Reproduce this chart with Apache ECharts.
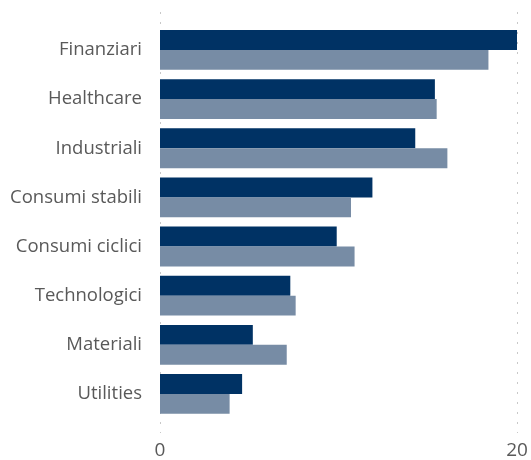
<!DOCTYPE html>
<html>
<head>
<meta charset="utf-8">
<script src="https://cdn.jsdelivr.net/npm/echarts@6/dist/echarts.min.js"></script>
<style>html,body{margin:0;padding:0;background:#fff}#c{width:531px;height:460px}</style>
</head>
<body>
<div id="c"></div>
<script>
const categories = ['Finanziari','Healthcare','Industriali','Consumi stabili','Consumi ciclici','Technologici','Materiali','Utilities'];
const seriesDark = [20.0, 15.4, 14.3, 11.9, 9.9, 7.3, 5.2, 4.6];
const seriesLight = [18.4, 15.5, 16.1, 10.7, 10.9, 7.6, 7.1, 3.9];
const xTicks = [0, 20];

const chart = echarts.init(document.getElementById('c'), null, {renderer: 'canvas'});
const font = '"Open Sans", Lato, sans-serif';
chart.setOption({
  animation: false,
  grid: [
    {left: 160, width: 357, top: 12, height: 421},
    {left: 160, width: 357, top: 25.4, height: 393.1}
  ],
  xAxis: [
    {gridIndex: 0, type: 'value', min: xTicks[0], max: xTicks[1], interval: 20,
     axisLine: {show: false}, axisTick: {show: false},
     axisLabel: {color: '#595959', fontSize: 19, fontFamily: font, margin: 8},
     splitLine: {show: true, lineStyle: {color: '#c8c8c8', width: 1, type: [2, 8]}}},
    {gridIndex: 1, type: 'value', min: 0, max: 20, show: false}
  ],
  yAxis: [
    {gridIndex: 0, type: 'category', data: categories, inverse: true, show: false},
    {gridIndex: 1, type: 'category', data: categories, inverse: true,
     axisLine: {show: false}, axisTick: {show: false},
     axisLabel: {color: '#595959', fontSize: 18.5, fontFamily: font, margin: 18, padding: [4, 0, 0, 0]}}
  ],
  series: [
    {type: 'bar', xAxisIndex: 1, yAxisIndex: 1, data: seriesDark, itemStyle: {color: '#003264'},
     barGap: '0%', barCategoryGap: '19%'},
    {type: 'bar', xAxisIndex: 1, yAxisIndex: 1, data: seriesLight, itemStyle: {color: '#778ca5'},
     barGap: '0%', barCategoryGap: '19%'}
  ]
});
</script>
</body>
</html>
